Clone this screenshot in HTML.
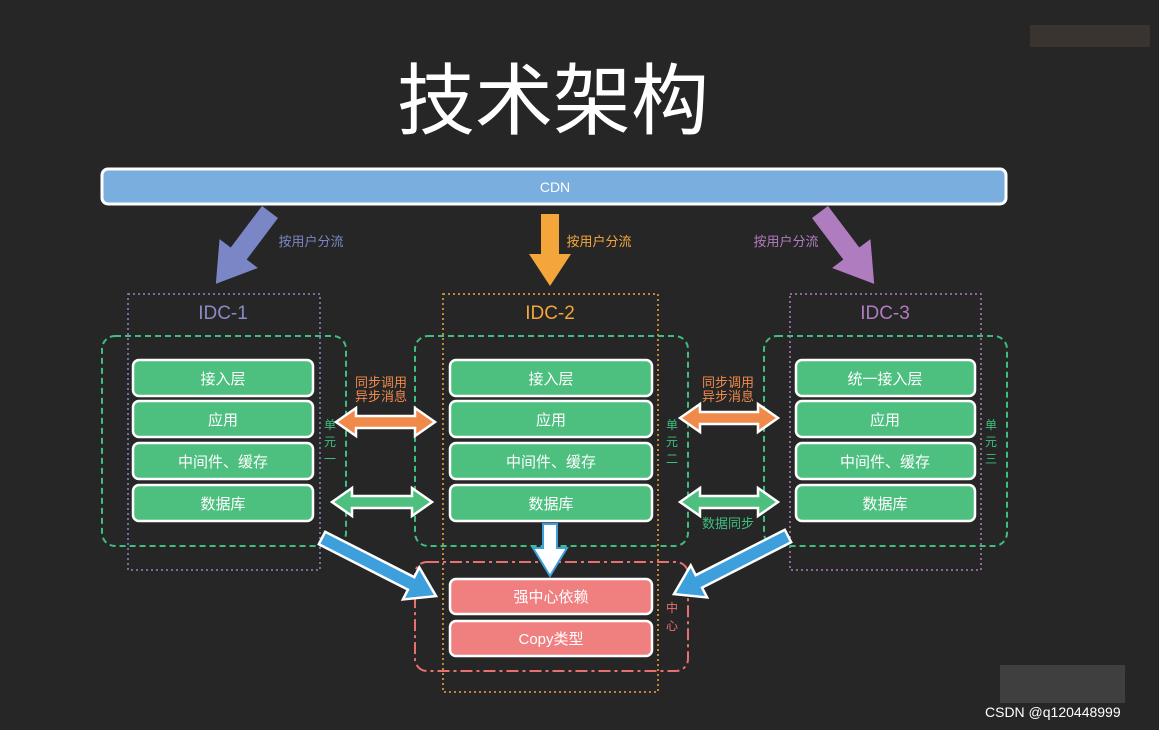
<!DOCTYPE html>
<html><head><meta charset="utf-8"><style>
body{margin:0;background:#262626;}
svg{display:block;font-family:"Liberation Sans","Noto Sans CJK SC",sans-serif;}
</style></head><body>
<svg width="1159" height="730" viewBox="0 0 1159 730" xmlns="http://www.w3.org/2000/svg">
<rect width="1159" height="730" fill="#262626"/>
<text x="553" y="128" font-size="78" fill="#fff" text-anchor="middle">技术架构</text>
<rect x="102" y="169" width="904" height="35" rx="6" fill="#7aaede" stroke="#fff" stroke-width="3"/>
<text x="555" y="192" font-size="14" fill="#fff" text-anchor="middle">CDN</text>
<!-- top arrows -->
<g transform="translate(270,212) rotate(37)"><polygon points="-10,0 10,0 10,52 24,52 0,90 -24,52 -10,52" fill="#7b86c6"/></g>
<polygon points="541,214 559,214 559,254 571,254 550,286 529,254 541,254" fill="#f4a63a"/>
<g transform="translate(820,212) rotate(-37)"><polygon points="-10,0 10,0 10,52 24,52 0,90 -24,52 -10,52" fill="#b07cc0"/></g>
<g font-size="13" text-anchor="middle">
<text x="311" y="246" fill="#7b86c6">按用户分流</text>
<text x="599" y="246" fill="#f4a63a">按用户分流</text>
<text x="786" y="246" fill="#b07cc0">按用户分流</text>
</g>
<!-- IDC boxes -->
<rect x="128" y="294" width="192" height="276" fill="none" stroke="#8a8ac8" stroke-width="1.5" stroke-dasharray="2,3"/>
<rect x="443" y="294" width="215" height="398" fill="none" stroke="#f4a63a" stroke-width="1.5" stroke-dasharray="2,3"/>
<rect x="790" y="294" width="191" height="276" fill="none" stroke="#b07cc0" stroke-width="1.5" stroke-dasharray="2,3"/>
<g font-size="19" text-anchor="middle">
<text x="223" y="319" fill="#8a8ac8">IDC-1</text>
<text x="550" y="319" fill="#f4a63a">IDC-2</text>
<text x="885" y="319" fill="#b07cc0">IDC-3</text>
</g>
<!-- green unit boxes -->
<g fill="none" stroke="#3fbf7f" stroke-width="2" stroke-dasharray="6,4">
<rect x="102" y="336" width="244" height="210" rx="13"/>
<rect x="415" y="336" width="273" height="210" rx="13"/>
<rect x="764" y="336" width="243" height="210" rx="13"/>
</g>
<g fill="#4dbf7f" stroke="#fff" stroke-width="2.5">
<rect x="133" y="360" width="180" height="36" rx="6"/><rect x="133" y="401" width="180" height="36" rx="6"/><rect x="133" y="443" width="180" height="36" rx="6"/><rect x="133" y="485" width="180" height="36" rx="6"/>
<rect x="450" y="360" width="202" height="36" rx="6"/><rect x="450" y="401" width="202" height="36" rx="6"/><rect x="450" y="443" width="202" height="36" rx="6"/><rect x="450" y="485" width="202" height="36" rx="6"/>
<rect x="796" y="360" width="179" height="36" rx="6"/><rect x="796" y="401" width="179" height="36" rx="6"/><rect x="796" y="443" width="179" height="36" rx="6"/><rect x="796" y="485" width="179" height="36" rx="6"/>
</g>
<g font-size="15" fill="#fff" text-anchor="middle">
<text x="223" y="384">接入层</text><text x="223" y="425">应用</text><text x="223" y="467">中间件、缓存</text><text x="223" y="509">数据库</text>
<text x="551" y="384">接入层</text><text x="551" y="425">应用</text><text x="551" y="467">中间件、缓存</text><text x="551" y="509">数据库</text>
<text x="885" y="384">统一接入层</text><text x="885" y="425">应用</text><text x="885" y="467">中间件、缓存</text><text x="885" y="509">数据库</text>
</g>
<g font-size="12" fill="#3fbf7f" text-anchor="middle">
<text x="330" y="429">单</text><text x="330" y="446">元</text><text x="330" y="463">一</text>
<text x="672" y="429">单</text><text x="672" y="446">元</text><text x="672" y="463">二</text>
<text x="991" y="429">单</text><text x="991" y="446">元</text><text x="991" y="463">三</text>
</g>
<!-- double arrows -->
<g stroke="#fff" stroke-width="2.5">
<polygon points="336,422 356,408 356,416 415,416 415,408 435,422 415,436 415,428 356,428 356,436" fill="#f08a4b"/>
<polygon points="680,418 700,404 700,412 758,412 758,404 778,418 758,432 758,424 700,424 700,432" fill="#f08a4b"/>
<polygon points="332,502 352,488 352,496 412,496 412,488 432,502 412,516 412,508 352,508 352,516" fill="#4dbf7f"/>
<polygon points="680,502 700,488 700,496 758,496 758,488 778,502 758,516 758,508 700,508 700,516" fill="#4dbf7f"/>
</g>
<g font-size="13" fill="#f08a4b" text-anchor="middle">
<text x="381" y="387">同步调用</text><text x="381" y="401">异步消息</text>
<text x="728" y="387">同步调用</text><text x="728" y="401">异步消息</text>
</g>
<text x="728" y="528" font-size="13" fill="#3fbf7f" text-anchor="middle">数据同步</text>
<!-- center -->
<rect x="415" y="562" width="273" height="109" rx="12" fill="none" stroke="#e87070" stroke-width="2" stroke-dasharray="12,4,3,4"/>
<g fill="#f08080" stroke="#fff" stroke-width="2.5">
<rect x="450" y="579" width="202" height="35" rx="6"/><rect x="450" y="621" width="202" height="35" rx="6"/>
</g>
<g font-size="15" fill="#fff" text-anchor="middle">
<text x="551" y="602">强中心依赖</text><text x="551" y="644">Copy类型</text>
</g>
<g font-size="12" fill="#e87070" text-anchor="middle"><text x="672" y="612">中</text><text x="672" y="630">心</text></g>
<!-- blue arrows -->
<g transform="translate(322,538) rotate(-63)"><polygon points="-7,0 7,0 7,100 18,100 0,128 -18,100 -7,100" fill="#3d9fdc" stroke="#fff" stroke-width="2.5"/></g>
<g transform="translate(788,536) rotate(63)"><polygon points="-7,0 7,0 7,100 18,100 0,128 -18,100 -7,100" fill="#3d9fdc" stroke="#fff" stroke-width="2.5"/></g>
<polygon points="543,524 557,524 557,548 567,548 550,576 533,548 543,548" fill="#fff" stroke="#3d9fdc" stroke-width="2"/>
<!-- watermark -->
<rect x="1030" y="25" width="120" height="22" fill="#5a4a44" opacity="0.4"/>
<rect x="1000" y="665" width="125" height="38" fill="#707070" opacity="0.35"/>
<text x="985" y="717" font-size="14" fill="#fff">CSDN @q120448999</text>
</svg>
</body></html>
